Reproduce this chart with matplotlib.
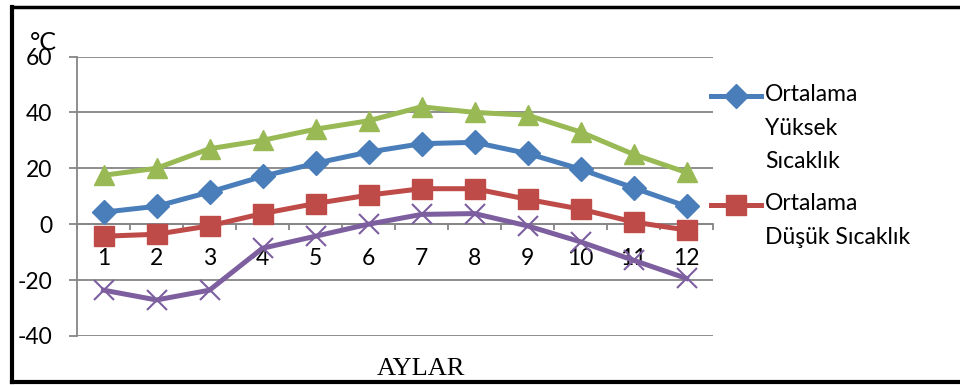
import matplotlib.pyplot as plt
from matplotlib.lines import Line2D

months = list(range(1, 13))

extreme_high = [17.5, 20, 27, 30, 34, 37, 42, 40, 39, 33, 25, 18.5]
avg_high = [4.3, 6.4, 11.5, 17.1, 21.8, 25.8, 28.8, 29.3, 25.3, 19.7, 13, 6.4]
avg_low = [-4.3, -3.6, -0.6, 3.8, 7.4, 10.4, 12.7, 12.7, 8.9, 5.4, 0.8, -2.1]
extreme_low = [-23.6, -27.1, -23.6, -8.6, -4.3, 0, 3.5, 3.8, -0.6, -6.3, -12.9, -19.4]

label_high = "Ortalama\nYüksek\nSıcaklık"
label_low = "Ortalama\nDüşük Sıcaklık"

yticks = [-40, -20, 0, 20, 40, 60]

BLUE = '#4a7ebb'
RED = '#be4b48'
GREEN = '#98b954'
PURPLE = '#7d5fa0'
GRID = '#868686'

plt.rcParams['font.family'] = ['Lato', 'DejaVu Sans']

fig = plt.figure(figsize=(9.6, 3.85), dpi=100)
ax = fig.add_axes([77 / 960, 49 / 385, 636 / 960, 279.5 / 385])

lw = 3.6
ax.plot(months, extreme_high, color=GREEN, lw=lw, marker='^', ms=14, zorder=3)
ax.plot(months, avg_high, color=BLUE, lw=lw, marker='D', ms=12, zorder=4)
ax.plot(months, avg_low, color=RED, lw=lw, marker='s', ms=14, zorder=3)
ax.plot(months, extreme_low, color=PURPLE, lw=lw, marker='x', ms=14, mew=1.5, zorder=3)

ax.set_xlim(0.5, 12.5)
ax.set_ylim(-40, 60)
ax.set_yticks(yticks)
ax.set_yticklabels([str(v) for v in yticks], fontsize=16.5)
ax.yaxis.grid(True, color=GRID, lw=1.3)
ax.set_axisbelow(True)

# category axis crosses at zero, ticks sit between the months
ax.spines['bottom'].set_position(('data', 0))
for side in ['top', 'right']:
    ax.spines[side].set_visible(False)
for side in ['left', 'bottom']:
    ax.spines[side].set_color(GRID)
    ax.spines[side].set_linewidth(1.3)
ax.set_xticks(months)
ax.set_xticklabels([str(m) for m in months], fontsize=16.5)
ax.set_xticks([m + 0.5 for m in range(0, 13)], minor=True)
ax.tick_params(axis='x', which='major', length=0, pad=17)
ax.tick_params(axis='x', which='minor', length=4, color=GRID, width=1.3)
ax.tick_params(axis='y', length=6, color=GRID, width=1.3, pad=12)

fig.text(43 / 960, 1 - 43 / 385, '°C', fontsize=18, ha='center', va='center')
fig.text(421 / 960, 1 - 369 / 385, 'AYLAR', fontsize=19,
         family='Liberation Serif', ha='center', va='center')

# legend drawn beside the plot, label text wrapped over several lines
for y0, color, marker, ms, text in [(96, BLUE, 'D', 12, label_high),
                                    (205, RED, 's', 14, label_low)]:
    yf = 1 - y0 / 385
    fig.add_artist(Line2D([711 / 960, 761 / 960], [yf, yf], color=color, lw=lw,
                          transform=fig.transFigure))
    fig.add_artist(Line2D([736 / 960], [yf], color=color, marker=marker, ms=ms,
                          transform=fig.transFigure))
    fig.text(765 / 960, yf + 12 / 385, text, fontsize=16.5, ha='left', va='top',
             linespacing=1.75)

# frame around the figure (right edge runs off the image)
fig.add_artist(Line2D([12 / 960, 12 / 960], [1 - 7 / 385, 1 - 382 / 385],
                      color='black', lw=3, transform=fig.transFigure))
fig.add_artist(Line2D([12 / 960, 1], [1 - 7 / 385, 1 - 7 / 385],
                      color='black', lw=2.5, transform=fig.transFigure))
fig.add_artist(Line2D([12 / 960, 1], [1 - 382 / 385, 1 - 382 / 385],
                      color='black', lw=3, transform=fig.transFigure))

fig.savefig('out.png', dpi=100)
